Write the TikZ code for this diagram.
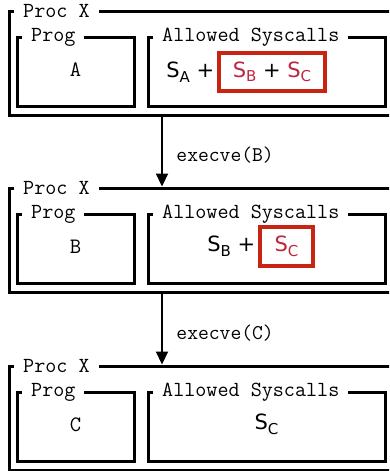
\documentclass[tikz,border=0pt]{standalone}
\usepackage{fontspec}
\usetikzlibrary{positioning,arrows.meta}
\newfontfamily\symfont{DejaVu Sans}
\definecolor{boxred}{RGB}{200,36,20}
\definecolor{textred}{RGB}{188,38,62}
\newcommand\sysc[1]{S\raisebox{-0.4ex}{\fontsize{15}{15}\selectfont #1}}
\newcommand\redsc[1]{{\color{textred}\sysc{#1}}}
\begin{document}
\begin{tikzpicture}[x=1pt,y=-1pt,>={Triangle[length=13pt,width=12pt]}]
\tikzset{frame/.style = {draw, line width=3pt, anchor=north west, outer sep=0pt, inner sep=0pt},
  procbox/.style = {frame, minimum width=386pt, minimum height=104.5pt},
  progbox/.style = {frame, minimum width=117pt, minimum height=69pt},
  sysbox/.style = {frame, minimum width=237pt, minimum height=69pt},
  title/.style = {fill=white, anchor=west, inner xsep=9pt, inner ysep=1pt, font=\ttfamily\fontsize{21.5}{21.5}\selectfont},
  prog/.style = {font=\ttfamily\fontsize{22}{22}\selectfont},
  syscalls/.style = {inner sep=0pt, font=\symfont\fontsize{21}{21}\selectfont},
  redbox/.style = {syscalls, draw=boxred, line width=3.2pt},
  arr/.style = {->, line width=2.2pt, shorten >=1.5pt},
  label/.style = {anchor=west, font=\ttfamily\fontsize{21}{21}\selectfont}}
\useasboundingbox (0,0) rectangle (389,471);
\clip (0,0) rectangle (389,471);
\coordinate (arrx) at (162,0);
% Proc X running A
\node[procbox] (p1) at (9,11) {};
\node[title] (t1) at ([xshift=5pt]p1.north west) {Proc X};
\node[progbox] (g1) at (17,37) {};
\node[title] (gt1) at ([xshift=5pt]g1.north west) {Prog};
\node[sysbox] (s1) at (148,37) {};
\node[title] (st1) at ([xshift=5pt]s1.north west) {Allowed Syscalls};
\node[prog] (a1) at ([yshift=2pt]g1.center) {A};
\node[redbox, minimum width=106pt, minimum height=38pt] (r1) at (272,72) {\redsc{B} + \redsc{C}};
\node[syscalls, left=3pt of r1] (sa1) {\sysc{A} +};
% Proc X running B
\node[procbox] (p2) at (9,188) {};
\node[title] (t2) at ([xshift=5pt]p2.north west) {Proc X};
\node[progbox] (g2) at (17,214) {};
\node[title] (gt2) at ([xshift=5pt]g2.north west) {Prog};
\node[sysbox] (s2) at (148,214) {};
\node[title] (st2) at ([xshift=5pt]s2.north west) {Allowed Syscalls};
\node[prog] (a2) at ([yshift=2pt]g2.center) {B};
\node[redbox, minimum width=53pt, minimum height=39pt] (r2) at (286.5,246.5) {\redsc{C}};
\node[syscalls, left=3pt of r2] (sb2) {\sysc{B} +};
% Proc X running C
\node[procbox] (p3) at (9,366) {};
\node[title] (t3) at ([xshift=5pt]p3.north west) {Proc X};
\node[progbox] (g3) at (17,392) {};
\node[title] (gt3) at ([xshift=5pt]g3.north west) {Prog};
\node[sysbox] (s3) at (148,392) {};
\node[title] (st3) at ([xshift=5pt]s3.north west) {Allowed Syscalls};
\node[prog] (a3) at ([yshift=2pt]g3.center) {C};
\node[syscalls] (sc3) at ([yshift=2pt]s3.center) {\sysc{C}};
% execve steps
\draw[arr] (p1.south -| arrx) -- (p2.north -| arrx) node[label, pos=0.55, xshift=10pt] {execve(B)};
\draw[arr] (p2.south -| arrx) -- (p3.north -| arrx) node[label, pos=0.55, xshift=10pt] {execve(C)};
\end{tikzpicture}
\end{document}
